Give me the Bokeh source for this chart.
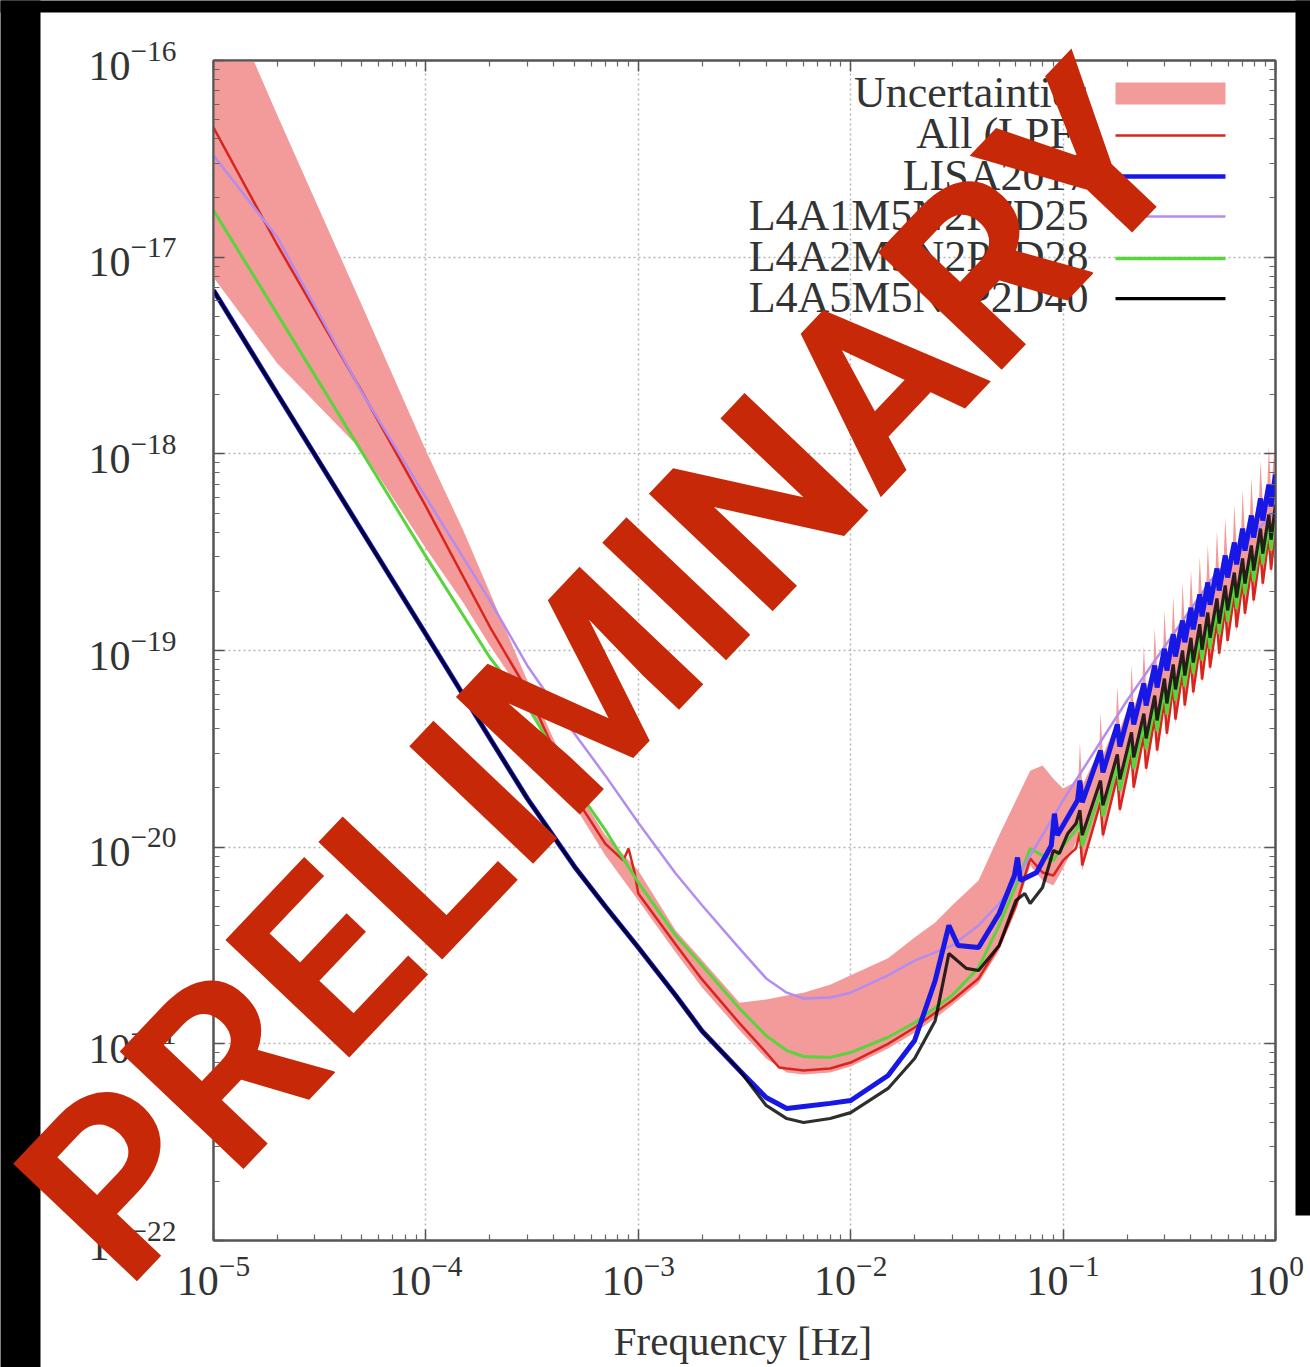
from bokeh.plotting import figure
from bokeh.models import (FixedTicker, LogAxis, Label, BoxAnnotation, PolyAnnotation,
                          ColumnDataSource)
from bokeh.embed import file_html
from bokeh.resources import INLINE

# ---------------- data ----------------
x_major = [1e-5, 1e-4, 1e-3, 1e-2, 1e-1, 1.0]
y_major = [1e-22, 1e-21, 1e-20, 1e-19, 1e-18, 1e-17, 1e-16]

legend_labels = ["Uncertainties", "All (LPF)", "LISA2017",
                 "L4A1M5N2P7D25", "L4A2M5N2P2D28", "L4A5M5N2P2D40"]

# comb region: tooth peak, drop just after peak, base just before peak
teeth_f = [0.12, 0.15, 0.18, 0.21, 0.24, 0.27, 0.30, 0.33, 0.365, 0.40,
           0.44, 0.48, 0.53, 0.58, 0.64, 0.70, 0.77, 0.85, 0.93]
drop_f = [0.123, 0.154, 0.185, 0.215, 0.246, 0.277, 0.308, 0.338, 0.374, 0.41,
          0.451, 0.492, 0.543, 0.595, 0.656, 0.718, 0.789, 0.871, 0.953]
pre_f = [0.118, 0.148, 0.177, 0.207, 0.236, 0.266, 0.296, 0.325, 0.36, 0.394,
         0.433, 0.473, 0.522, 0.571, 0.63, 0.69, 0.758, 0.837, 0.916]

# LISA2017 (blue)
lisa_f = [1e-5, 2e-5, 5e-5, 1e-4, 2e-4, 3e-4, 5e-4, 7e-4, 1e-3, 1.5e-3, 2e-3, 3e-3,
          4e-3, 5e-3, 6e-3, 8e-3, 1e-2, 1.5e-2, 2e-2, 2.5e-2, 2.9e-2, 3.2e-2, 4e-2,
          5e-2, 5.9e-2, 6.1e-2, 6.3e-2, 7.5e-2, 8.8e-2, 9.1e-2, 9.4e-2, 0.117]
lisa_v = [6.78e-18, 2.01e-18, 4.05e-19, 1.21e-19, 3.58e-20, 1.77e-20, 7.98e-21, 4.99e-21,
          3.09e-21, 1.76e-21, 1.16e-21, 7.32e-22, 5.33e-22, 4.69e-22, 4.80e-22, 4.98e-22,
          5.15e-22, 6.90e-22, 1.04e-21, 2.10e-21, 4.00e-21, 3.16e-21, 3.09e-21, 4.60e-21,
          7.18e-21, 8.86e-21, 6.77e-21, 7.43e-21, 1.02e-20, 1.48e-20, 1.15e-20, 1.73e-20]
lisa_peak = [2.18e-20, 3.10e-20, 4.21e-20, 5.44e-20, 6.80e-20, 8.39e-20, 1.02e-19, 1.21e-19,
             1.42e-19, 1.65e-19, 1.93e-19, 2.22e-19, 2.61e-19, 3.04e-19, 3.54e-19, 4.17e-19,
             4.86e-19, 5.93e-19, 6.98e-19]
lisa_drop = [1.69e-20, 2.40e-20, 3.25e-20, 4.21e-20, 5.25e-20, 6.48e-20, 7.91e-20, 9.32e-20,
             1.10e-19, 1.28e-19, 1.49e-19, 1.71e-19, 2.02e-19, 2.35e-19, 2.74e-19, 3.22e-19,
             3.75e-19, 4.58e-19, 5.40e-19]
lisa_end = 7.85e-19

# L4A5M5N2P2D40 (black)
l4a5_f = [1e-5, 2e-5, 5e-5, 1e-4, 2e-4, 3e-4, 5e-4, 7e-4, 1e-3, 1.5e-3, 2e-3, 3e-3,
          4e-3, 5e-3, 6e-3, 8e-3, 1e-2, 1.5e-2, 2e-2, 2.5e-2, 2.9e-2, 3.5e-2, 4e-2,
          5e-2, 6e-2, 6.6e-2, 7e-2, 8e-2, 9e-2, 9.6e-2, 0.105, 0.115]
l4a5_v = [6.78e-18, 2.01e-18, 4.05e-19, 1.21e-19, 3.58e-20, 1.77e-20, 7.98e-21, 4.99e-21,
          3.09e-21, 1.76e-21, 1.16e-21, 7.32e-22, 4.86e-22, 4.17e-22, 3.98e-22, 4.17e-22,
          4.47e-22, 5.93e-22, 8.42e-22, 1.31e-21, 2.88e-21, 2.42e-21, 2.36e-21, 3.16e-21,
          5.36e-21, 5.81e-21, 5.17e-21, 6.24e-21, 9.62e-21, 9.29e-21, 1.17e-20, 1.32e-20]
l4a5_peak = [1.54e-20, 2.18e-20, 2.96e-20, 3.83e-20, 4.78e-20, 5.90e-20, 7.20e-20, 8.49e-20,
             1.00e-19, 1.16e-19, 1.36e-19, 1.56e-19, 1.84e-19, 2.14e-19, 2.49e-19, 2.94e-19,
             3.42e-19, 4.17e-19, 4.91e-19]
l4a5_drop = [1.15e-20, 1.63e-20, 2.21e-20, 2.86e-20, 3.57e-20, 4.41e-20, 5.38e-20, 6.34e-20,
             7.46e-20, 8.69e-20, 1.01e-19, 1.16e-19, 1.37e-19, 1.60e-19, 1.86e-19, 2.19e-19,
             2.55e-19, 3.11e-19, 3.66e-19]
l4a5_end = 5.52e-19

# L4A2M5N2P2D28 (green)
l4a2_f = [1e-5, 2e-5, 5e-5, 1e-4, 2e-4, 3e-4, 5e-4, 7e-4, 1e-3, 1.5e-3, 2e-3, 3e-3,
          4e-3, 5e-3, 6e-3, 8e-3, 1e-2, 1.5e-2, 2e-2, 3e-2, 4e-2, 5e-2, 6e-2, 7e-2,
          8e-2, 9e-2, 0.1, 0.115]
l4a2_v = [1.73e-17, 5.12e-18, 1.02e-18, 3.01e-19, 9.21e-20, 5.25e-20, 2.06e-20, 1.22e-20,
          6.61e-21, 3.56e-21, 2.50e-21, 1.51e-21, 1.10e-21, 9.24e-22, 8.62e-22, 8.53e-22,
          9.03e-22, 1.08e-21, 1.28e-21, 1.76e-21, 2.44e-21, 4.00e-21, 6.38e-21, 9.84e-21,
          9.07e-21, 8.55e-21, 1.02e-20, 1.22e-20]
l4a2_peak = [1.33e-20, 1.90e-20, 2.57e-20, 3.33e-20, 4.16e-20, 5.13e-20, 6.26e-20, 7.37e-20,
             8.69e-20, 1.01e-19, 1.18e-19, 1.36e-19, 1.60e-19, 1.86e-19, 2.16e-19, 2.55e-19,
             2.97e-19, 3.62e-19, 4.27e-19]
l4a2_drop = [1.01e-20, 1.43e-20, 1.94e-20, 2.51e-20, 3.14e-20, 3.88e-20, 4.73e-20, 5.57e-20,
             6.56e-20, 7.64e-20, 8.89e-20, 1.02e-19, 1.21e-19, 1.40e-19, 1.63e-19, 1.93e-19,
             2.24e-19, 2.74e-19, 3.22e-19]
l4a2_end = 4.80e-19

# All (LPF) (red)
lpf_f = [1e-5, 2e-5, 5e-5, 1e-4, 2e-4, 3e-4, 5e-4, 7e-4, 8.5e-4, 9e-4, 9.6e-4, 1e-3,
         1.5e-3, 2e-3, 3e-3, 4e-3, 4.6e-3, 5e-3, 6e-3, 8e-3, 1e-2, 1.5e-2, 2e-2, 3e-2,
         4e-2, 5e-2, 6e-2, 7e-2, 8e-2, 9e-2, 0.1, 0.115]
lpf_v = [4.56e-17, 1.15e-17, 2.07e-18, 5.40e-19, 1.32e-19, 6.26e-20, 1.83e-20, 1.04e-20,
         8.56e-21, 9.85e-21, 7.43e-21, 5.81e-21, 3.20e-21, 2.12e-21, 1.27e-21, 9.03e-22,
         7.58e-22, 7.49e-22, 7.32e-22, 7.49e-22, 8.03e-22, 1.00e-21, 1.21e-21, 1.66e-21,
         2.15e-21, 3.16e-21, 5.05e-21, 8.76e-21, 7.43e-21, 7.18e-21, 8.56e-21, 9.85e-21]
lpf_peak = [1.19e-20, 1.69e-20, 2.29e-20, 2.96e-20, 3.70e-20, 4.56e-20, 5.57e-20, 6.56e-20,
            7.73e-20, 9.00e-20, 1.05e-19, 1.21e-19, 1.42e-19, 1.65e-19, 1.93e-19, 2.27e-19,
            2.64e-19, 3.22e-19, 3.80e-19]
lpf_drop = [8.07e-21, 1.15e-20, 1.55e-20, 2.01e-20, 2.51e-20, 3.10e-20, 3.78e-20, 4.46e-20,
            5.25e-20, 6.12e-20, 7.12e-20, 8.19e-20, 9.65e-20, 1.12e-19, 1.31e-19, 1.54e-19,
            1.80e-19, 2.19e-19, 2.58e-19]
lpf_end = 4.27e-19

# L4A1M5N2P7D25 (violet)
l4a1_f = [1e-5, 2e-5, 5e-5, 1e-4, 2e-4, 3e-4, 5e-4, 7e-4, 1e-3, 1.5e-3, 2e-3, 3e-3,
          4e-3, 5e-3, 6e-3, 8e-3, 1e-2, 1.5e-2, 2e-2, 3e-2, 4e-2, 5e-2, 6e-2, 7e-2,
          8e-2, 0.1, 0.2, 0.5, 1.0]
l4a1_v = [3.29e-17, 1.26e-17, 2.05e-18, 6.00e-19, 1.80e-19, 8.39e-20, 3.78e-20, 2.31e-20,
          1.33e-20, 7.35e-21, 5.05e-21, 3.05e-21, 2.15e-21, 1.82e-21, 1.70e-21, 1.72e-21,
          1.82e-21, 2.23e-21, 2.65e-21, 3.16e-21, 4.00e-21, 5.17e-21, 6.77e-21, 9.07e-21,
          1.15e-20, 1.73e-20, 5.57e-20, 2.30e-19, 5.15e-19]

# Uncertainty band
unc_f = [1e-5, 2e-5, 5e-5, 1e-4, 1.5e-4, 2e-4, 3e-4, 5e-4, 7e-4, 1e-3, 1.5e-3, 2e-3,
         3e-3, 4e-3, 5e-3, 6e-3, 8e-3, 1e-2, 1.5e-2, 2e-2, 2.5e-2, 3e-2, 4e-2, 5e-2,
         6e-2, 7e-2, 8e-2, 9e-2, 0.1]
unc_hi = [2.94e-16, 5.25e-17, 5.68e-18, 1.04e-18, 4.07e-19, 1.97e-19, 7.03e-20, 2.06e-20,
          1.15e-20, 7.61e-21, 3.77e-21, 2.66e-21, 1.62e-21, 1.68e-21, 1.76e-21, 1.82e-21,
          2.00e-21, 2.23e-21, 2.72e-21, 3.47e-21, 4.14e-21, 5.05e-21, 6.77e-21, 1.15e-20,
          1.73e-20, 2.45e-20, 2.60e-20, 2.23e-20, 1.99e-20]
unc_lo = [7.89e-18, 2.88e-18, 1.04e-18, 3.30e-19, 1.75e-19, 1.06e-19, 5.57e-20, 1.63e-20,
          9.07e-21, 5.36e-21, 2.91e-21, 1.93e-21, 1.17e-21, 8.42e-22, 7.15e-22, 6.98e-22,
          7.15e-22, 7.67e-22, 9.46e-22, 1.14e-21, 1.35e-21, 1.57e-21, 2.03e-21, 2.98e-21,
          4.77e-21, 8.07e-21, 6.77e-21, 6.38e-21, 7.79e-21]
unc_hi_spike = [3.40e-20, 4.84e-20, 6.56e-20, 8.49e-20, 1.06e-19, 1.31e-19, 1.60e-19, 1.88e-19,
                2.22e-19, 2.58e-19, 3.00e-19, 3.46e-19, 4.07e-19, 4.75e-19, 5.52e-19, 6.51e-19,
                7.58e-19, 9.24e-19, 1.09e-18]
unc_hi_base = [2.06e-20, 2.93e-20, 3.97e-20, 5.13e-20, 6.41e-20, 7.91e-20, 9.65e-20, 1.14e-19,
               1.34e-19, 1.56e-19, 1.82e-19, 2.09e-19, 2.46e-19, 2.87e-19, 3.34e-19, 3.93e-19,
               4.58e-19, 5.59e-19, 6.58e-19]
unc_lo_peak = [1.12e-20, 1.59e-20, 2.16e-20, 2.79e-20, 3.49e-20, 4.31e-20, 5.25e-20, 6.19e-20,
               7.29e-20, 8.49e-20, 9.88e-20, 1.14e-19, 1.34e-19, 1.56e-19, 1.82e-19, 2.14e-19,
               2.49e-19, 3.04e-19, 3.58e-19]
unc_lo_drop = [7.61e-21, 1.08e-20, 1.47e-20, 1.90e-20, 2.37e-20, 2.93e-20, 3.57e-20, 4.21e-20,
               4.95e-20, 5.77e-20, 6.72e-20, 7.73e-20, 9.11e-20, 1.06e-19, 1.23e-19, 1.45e-19,
               1.69e-19, 2.07e-19, 2.43e-19]
unc_hi_end = 1.23e-18
unc_lo_end = 4.03e-19


def with_comb(f_low, v_low, peaks, drops, end):
    fx = list(f_low)
    vy = list(v_low)
    for fp, fd, vp, vd in zip(teeth_f, drop_f, peaks, drops):
        fx += [fp, fd]
        vy += [vp, vd]
    fx.append(1.0)
    vy.append(end)
    return fx, vy


lisa_x, lisa_y = with_comb(lisa_f, lisa_v, lisa_peak, lisa_drop, lisa_end)
l4a5_x, l4a5_y = with_comb(l4a5_f, l4a5_v, l4a5_peak, l4a5_drop, l4a5_end)
l4a2_x, l4a2_y = with_comb(l4a2_f, l4a2_v, l4a2_peak, l4a2_drop, l4a2_end)
lpf_x, lpf_y = with_comb(lpf_f, lpf_v, lpf_peak, lpf_drop, lpf_end)

band_x = list(unc_f)
band_hi = list(unc_hi)
band_lo = list(unc_lo)
for k in range(len(teeth_f)):
    band_x += [pre_f[k], teeth_f[k], drop_f[k]]
    band_hi += [lisa_peak[k], unc_hi_spike[k], unc_hi_base[k]]
    band_lo += [unc_lo_peak[k], unc_lo_peak[k], unc_lo_drop[k]]
band_x.append(1.0)
band_hi.append(unc_hi_end)
band_lo.append(unc_lo_end)

# ---------------- styling ----------------
C_BAND = "#f39a9a"
C_LPF = "#d8261e"
C_LISA = "#1717e6"
C_L4A1 = "#b48cf0"
C_L4A2 = "#5ad43c"
C_L4A5 = "#000000"
TXT = "#333333"
SERIF = "Liberation Serif"
W, H = 1310, 1367

fig = figure(width=W, height=H, x_axis_type="log", y_axis_type="log",
             x_range=(1e-5, 1.0), y_range=(1e-22, 1e-16),
             output_backend="svg", toolbar_location=None,
             min_border_left=213, min_border_right=35,
             min_border_top=60, min_border_bottom=127)
fig.background_fill_color = "white"
fig.border_fill_color = "white"
fig.outline_line_color = "#555555"
fig.outline_line_width = 2

x_minor = [m * 10.0 ** e for e in range(-5, 0) for m in range(2, 10)]
y_minor = [m * 10.0 ** e for e in range(-22, -16) for m in range(2, 10)]
xt = FixedTicker(ticks=x_major, minor_ticks=x_minor)
yt = FixedTicker(ticks=y_major, minor_ticks=y_minor)

fig.add_layout(LogAxis(ticker=xt), "above")
fig.add_layout(LogAxis(ticker=yt), "right")

for ax in fig.xaxis + fig.yaxis:
    ax.axis_line_color = "#555555"
    ax.axis_line_width = 2
    ax.major_tick_in = 11
    ax.major_tick_out = 0
    ax.minor_tick_in = 6
    ax.minor_tick_out = 0
    ax.major_tick_line_color = "#555555"
    ax.major_tick_line_width = 1.5
    ax.minor_tick_line_color = "#666666"
    ax.minor_tick_line_width = 1.2
fig.xaxis.ticker = xt
fig.yaxis.ticker = yt

for ax in (fig.below[0], fig.left[0]):
    ax.major_label_text_font = SERIF
    ax.major_label_text_font_size = "42px"
    ax.major_label_text_color = TXT
fig.below[0].major_label_standoff = 16
fig.left[0].major_label_standoff = 37
for ax in (fig.above[0], fig.right[0]):
    ax.major_label_text_font_size = "1px"
    ax.major_label_text_alpha = 0
    ax.major_label_standoff = 0

for g in (fig.xgrid[0], fig.ygrid[0]):
    g.grid_line_color = "#b5b5b5"
    g.grid_line_dash = "2 3"
    g.grid_line_width = 1.5

# ---------------- marks ----------------
fig.varea(x="f", y1="lo", y2="hi", fill_color=C_BAND, fill_alpha=1.0,
          source=ColumnDataSource(dict(f=band_x, lo=band_lo, hi=band_hi)))
fig.line(x="f", y="v", line_color=C_LPF, line_width=2.5,
         source=ColumnDataSource(dict(f=lpf_x, v=lpf_y)))
fig.line(x="f", y="v", line_color=C_L4A2, line_width=3,
         source=ColumnDataSource(dict(f=l4a2_x, v=l4a2_y)))
fig.line(x="f", y="v", line_color=C_L4A1, line_width=2.5,
         source=ColumnDataSource(dict(f=l4a1_f, v=l4a1_v)))
fig.line(x="f", y="v", line_color=C_LISA, line_width=5,
         source=ColumnDataSource(dict(f=lisa_x, v=lisa_y)))
fig.line(x="f", y="v", line_color=C_L4A5, line_width=3.2, line_alpha=0.82,
         source=ColumnDataSource(dict(f=l4a5_x, v=l4a5_y)))

# ---------------- legend (text left, key right) ----------------
leg_x_text = 0.1317
leg_y = [6.88e-17, 4.25e-17, 2.60e-17, 1.63e-17, 1.008e-17, 6.23e-18]
key_x0, key_x1 = 0.1765, 0.5815
for lab, yy in zip(legend_labels, leg_y):
    fig.add_layout(Label(x=leg_x_text, y=yy, text=lab, text_align="right",
                         text_baseline="middle", text_font=SERIF,
                         text_font_size="44px", text_color=TXT))
fig.add_layout(BoxAnnotation(left=key_x0, right=key_x1, bottom=5.97e-17, top=7.73e-17,
                             fill_color=C_BAND, fill_alpha=1.0, line_color=None))
for col, yy, w in [(C_LPF, 4.155e-17, 2.5), (C_LISA, 2.57e-17, 4.5),
                   (C_L4A1, 1.61e-17, 2.5), (C_L4A2, 9.84e-18, 3.5),
                   (C_L4A5, 6.16e-18, 3.2)]:
    fig.add_layout(PolyAnnotation(xs=[key_x0, key_x1], ys=[yy, yy], fill_color=None,
                                  fill_alpha=0, line_color=col, line_alpha=1.0,
                                  line_width=w))

# ---------------- transparent full-window overlay (things outside the plot frame) ----------
over = figure(width=W, height=H, x_range=(0, W), y_range=(0, H), min_border=0,
              toolbar_location=None, output_backend="svg", title=None,
              x_axis_location=None, y_axis_location=None)
over.background_fill_alpha = 0
over.border_fill_alpha = 0
over.outline_line_color = None
over.grid.visible = False
over.styles = {"position": "absolute", "left": "0px", "top": "0px"}

# black slide background strips (window px, y up from bottom)
for l, r, b, t in [(-20, 40, -20, H + 20),
                   (-20, W + 20, H - 12, H + 20),
                   (1295, W + 20, H - 1215, H + 20)]:
    over.add_layout(BoxAnnotation(left=l, right=r, bottom=b, top=t,
                                  left_units="screen", right_units="screen",
                                  bottom_units="screen", top_units="screen",
                                  fill_color="black", fill_alpha=1.0, line_color=None,
                                  level="underlay"))

# x axis title
over.add_layout(Label(x=742.5, y=27, x_units="screen", y_units="screen",
                      text="Frequency [Hz]", text_align="center",
                      text_baseline="alphabetic", text_font=SERIF, text_font_size="41px",
                      text_color=TXT))

# watermark
over.add_layout(Label(x=601, y=695, x_units="screen", y_units="screen",
                      text="PRELIMINARY", angle=0.8116,
                      text_align="center", text_baseline="alphabetic", text_font="Roboto",
                      text_font_style="bold", text_font_size="240px", text_color="#c62808",
                      level="overlay"))

p = [fig, over]

open("out.html", "w").write(file_html(p, INLINE))
